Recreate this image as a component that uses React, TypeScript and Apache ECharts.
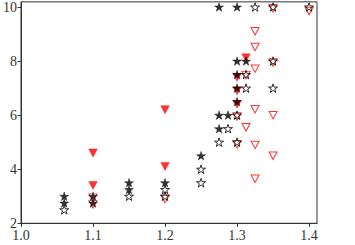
import React, { useEffect, useRef } from "react";
import * as echarts from "echarts";

const xTicks = [1.0, 1.1, 1.2, 1.3, 1.4];
const yTicks = [2, 4, 6, 8, 10];

const filledStars: number[][] = [
  [1.06, 3.0], [1.06, 2.75], [1.1, 3.0], [1.1, 2.75],
  [1.15, 3.5], [1.15, 3.25], [1.2, 3.5], [1.25, 4.5],
  [1.275, 5.5], [1.275, 6.0], [1.275, 10.0], [1.2875, 6.0],
  [1.3, 10.0], [1.3, 8.0], [1.3, 7.5], [1.3, 7.0], [1.3, 6.5], [1.3125, 8.0],
];

const hollowStars: number[][] = [
  [1.06, 2.5], [1.15, 3.0], [1.2, 3.25], [1.2, 3.0],
  [1.25, 4.0], [1.25, 3.5], [1.275, 5.0], [1.2875, 5.5],
  [1.3, 6.0], [1.3, 5.0], [1.3125, 7.5], [1.3125, 7.0],
  [1.325, 10.0], [1.35, 10.0], [1.35, 8.0], [1.35, 7.0], [1.4, 10.0],
];

const filledTriangles: number[][] = [
  [1.1, 4.6], [1.1, 3.4], [1.2, 6.2], [1.2, 4.1],
  [1.3, 7.4], [1.3, 6.9], [1.3, 6.4], [1.3125, 8.12],
];

const hollowTriangles: number[][] = [
  [1.1, 2.95], [1.1, 2.7], [1.2, 2.9], [1.3, 5.95], [1.3, 4.92],
  [1.3125, 7.48], [1.3125, 5.55], [1.325, 9.1], [1.325, 8.52],
  [1.325, 7.72], [1.325, 6.22], [1.325, 4.9], [1.325, 3.65],
  [1.35, 9.95], [1.35, 7.95], [1.35, 6.0], [1.35, 4.5], [1.4, 9.85],
];

const STAR =
  "path://M0,-1L0.2245,-0.309L0.951,-0.309L0.363,0.118L0.588,0.809L0,0.382L-0.588,0.809L-0.363,0.118L-0.951,-0.309L-0.2245,-0.309Z";

const FONT = "Liberation Serif";

export default function App() {
  const ref = useRef<HTMLDivElement>(null);
  useEffect(() => {
    if (!ref.current) return;
    const chart = echarts.init(ref.current, null, { renderer: "svg" });
    chart.setOption({
      animation: false,
      backgroundColor: "#ffffff",
      grid: {
        left: 18,
        top: 1.5,
        right: 38,
        bottom: 21.7,
        show: true,
        borderColor: "#333333",
        borderWidth: 1,
        backgroundColor: "transparent",
      },
      xAxis: {
        type: "value",
        min: 1.0,
        max: 1.411,
        splitLine: { show: false },
        axisLine: { show: true, lineStyle: { color: "#333333", width: 1 } },
        axisTick: {
          show: true,
          length: 3.5,
          lineStyle: { color: "#333333" },
          customValues: xTicks,
        },
        axisLabel: {
          color: "#333333",
          fontFamily: FONT,
          fontSize: 14,
          margin: 5,
          customValues: xTicks,
          formatter: (v: number) => v.toFixed(1),
        },
      },
      yAxis: {
        type: "value",
        min: 2,
        max: 10.19,
        splitLine: { show: false },
        axisLine: { show: true, lineStyle: { color: "#333333", width: 1 } },
        axisTick: {
          show: true,
          length: 3.5,
          lineStyle: { color: "#333333" },
          customValues: yTicks,
        },
        axisLabel: {
          color: "#333333",
          fontFamily: FONT,
          fontSize: 14,
          margin: 4,
          customValues: yTicks,
          formatter: (v: number) => String(Math.round(v)),
        },
      },
      series: [
        {
          type: "scatter",
          data: hollowTriangles,
          symbol: "triangle",
          symbolRotate: 180,
          symbolSize: [8, 7.5],
          itemStyle: { color: "rgba(0,0,0,0)", borderColor: "#ff0000", borderWidth: 1 },
        },
        {
          type: "scatter",
          data: filledTriangles,
          symbol: "triangle",
          symbolRotate: 180,
          symbolSize: [8.5, 8],
          itemStyle: { color: "#ff0000", borderColor: "#ff0000", borderWidth: 0.5 },
        },
        {
          type: "scatter",
          data: hollowStars,
          symbol: STAR,
          symbolKeepAspect: true,
          symbolSize: 9,
          itemStyle: { color: "rgba(0,0,0,0)", borderColor: "#000000", borderWidth: 1 },
        },
        {
          type: "scatter",
          data: filledStars,
          symbol: STAR,
          symbolKeepAspect: true,
          symbolSize: 9,
          itemStyle: { color: "#000000", borderColor: "#000000", borderWidth: 0.5 },
        },
      ],
    });
    return () => chart.dispose();
  }, []);
  return (
    <div
      ref={ref}
      style={{ position: "absolute", left: 0, top: 0, width: 355, height: 245, background: "#fff" }}
    />
  );
}
